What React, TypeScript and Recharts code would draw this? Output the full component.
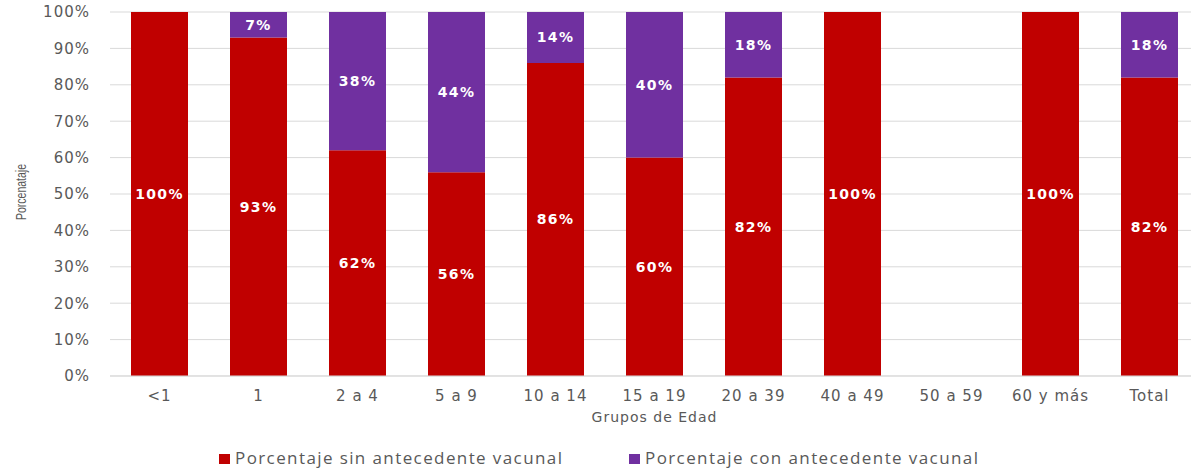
import React from 'react';
import { BarChart, Bar, XAxis, YAxis, CartesianGrid, Legend, LabelList } from 'recharts';

const categories = ['<1', '1', '2 a 4', '5 a 9', '10 a 14', '15 a 19', '20 a 39', '40 a 49', '50 a 59', '60 y más', 'Total'];
const sinAntecedente = [100, 93, 62, 56, 86, 60, 82, 100, 0, 100, 82];
const conAntecedente = [0, 7, 38, 44, 14, 40, 18, 0, 0, 0, 18];
const yTicks = [0, 10, 20, 30, 40, 50, 60, 70, 80, 90, 100];
const seriesNames = ['Porcentaje sin antecedente vacunal', 'Porcentaje con antecedente vacunal'];

const RED = '#C00000';
const PURPLE = '#7030A0';
const GREY = '#595959';

const data = categories.map((c, i) => ({ name: c, sin: sinAntecedente[i], con: conAntecedente[i] }));

const renderValueLabel = (props: any) => {
  const { x, y, width, height, value } = props;
  if (!value) return null;
  return (
    <text
      x={x + width / 2}
      y={y + height / 2}
      fill="#ffffff"
      textAnchor="middle"
      dominantBaseline="central"
      fontFamily="DejaVu Sans"
      fontWeight="bold"
      fontSize={14}
      letterSpacing={1.3}
    >
      {value}%
    </text>
  );
};

const renderYLabel = (props: any) => {
  const vb = props.viewBox;
  const cx = vb.x + 21;
  const cy = vb.y + vb.height / 2 - 2;
  return (
    <text
      x={cx}
      y={cy}
      transform={`rotate(-90, ${cx}, ${cy})`}
      textAnchor="middle"
      dominantBaseline="central"
      fill={GREY}
      fontFamily="Liberation Sans"
      fontSize={14}
      textLength={56}
      lengthAdjust="spacingAndGlyphs"
    >
      Porcenataje
    </text>
  );
};

const renderLegend = () => (
  <div style={{ position: 'relative', width: 1191, height: 20, fontFamily: 'Open Sans', fontSize: 17, letterSpacing: 1.4, color: GREY }}>
    <div style={{ position: 'absolute', left: 219, top: 5, width: 11, height: 10, background: RED }} />
    <div style={{ position: 'absolute', left: 235, top: -3, whiteSpace: 'nowrap' }}>{seriesNames[0]}</div>
    <div style={{ position: 'absolute', left: 629, top: 5, width: 11, height: 10, background: PURPLE }} />
    <div style={{ position: 'absolute', left: 645, top: -3, whiteSpace: 'nowrap' }}>{seriesNames[1]}</div>
  </div>
);

export default function App() {
  return (
    <div style={{ position: 'absolute', left: 0, top: 0, width: 1191, height: 470, overflow: 'hidden', background: '#fff' }}>
      <BarChart width={1199} height={470} data={data} margin={{ top: 12, right: 0, left: 0, bottom: 28 }} barSize={57}>
        <CartesianGrid vertical={false} stroke="#d9d9d9" />
        <XAxis
          dataKey="name"
          tickLine={false}
          axisLine={{ stroke: '#d9d9d9' }}
          tickMargin={8}
          height={46}
          interval={0}
          tick={{ fill: GREY, fontSize: 15, fontFamily: 'DejaVu Sans', letterSpacing: 1 }}
          label={{ value: 'Grupos de Edad', position: 'insideBottom', offset: 0, fill: GREY, fontSize: 14, fontFamily: 'DejaVu Sans', letterSpacing: 1 }}
        />
        <YAxis
          width={110}
          domain={[0, 100]}
          ticks={yTicks}
          tickFormatter={(v: number) => `${v}%`}
          tickLine={false}
          axisLine={false}
          tickMargin={14}
          tick={{ fill: GREY, fontSize: 15, fontFamily: 'DejaVu Sans', letterSpacing: 1 }}
          label={renderYLabel}
        />
        <Legend content={renderLegend} wrapperStyle={{ top: 449, left: 0, width: 1191, height: 20 }} />
        <Bar dataKey="sin" stackId="a" fill={RED} name={seriesNames[0]} isAnimationActive={false}>
          <LabelList dataKey="sin" content={renderValueLabel} />
        </Bar>
        <Bar dataKey="con" stackId="a" fill={PURPLE} name={seriesNames[1]} isAnimationActive={false}>
          <LabelList dataKey="con" content={renderValueLabel} />
        </Bar>
      </BarChart>
    </div>
  );
}
